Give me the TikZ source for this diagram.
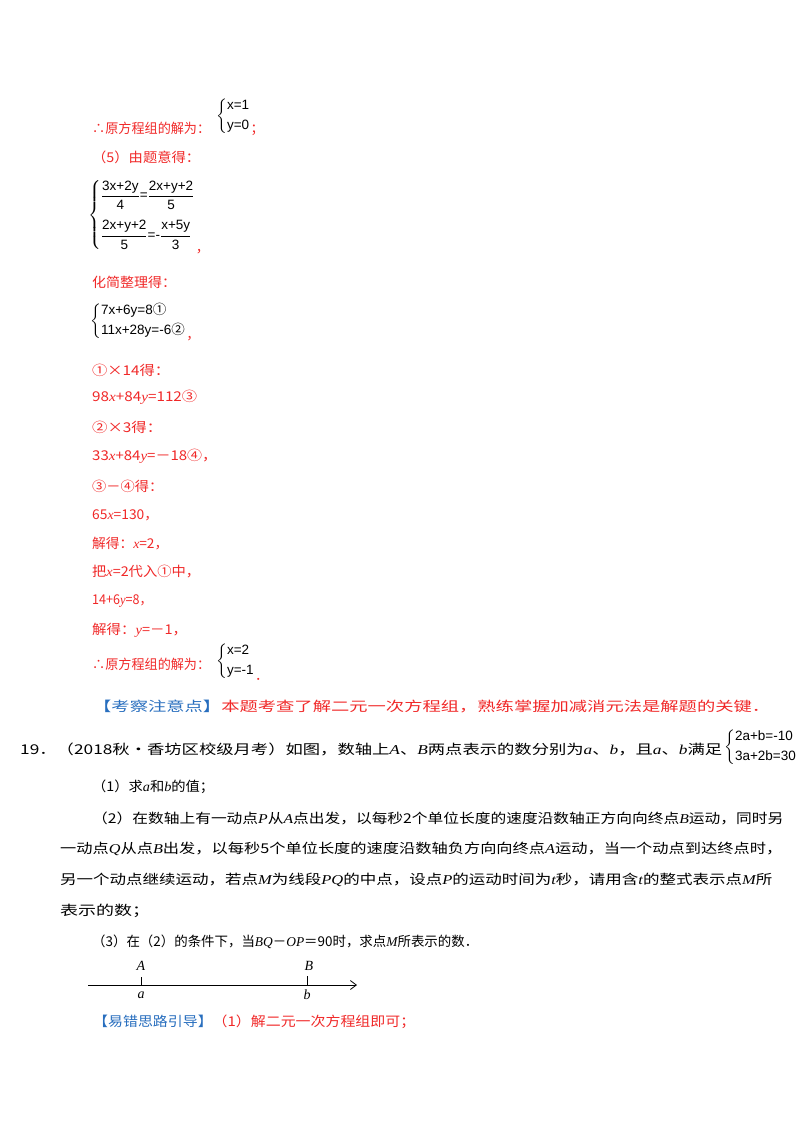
\documentclass[tikz,border=0pt]{standalone}
\usepackage{fontspec}
\usepackage{amsmath,graphicx}
\setmainfont{Noto Sans CJK SC}
\newfontfamily\eqf{Liberation Sans}
\newfontfamily\vf{Liberation Serif}
\usetikzlibrary{arrows.meta}
\definecolor{rd}{RGB}{240,40,40}
\definecolor{bl}{RGB}{40,110,190}
\newcommand{\V}[1]{{\vf\itshape #1}}
\newcommand{\E}[1]{\hbox{\eqf #1}}
\newcommand{\fit}[2]{\resizebox{#1}{\height}{#2}}
\tikzset{t/.style={anchor=west,inner sep=0pt,font=\fontsize{13.5}{15}\selectfont},
 r/.style={t,text=rd}, k/.style={t,text=black}}
\begin{document}
\begin{tikzpicture}[x=1pt,y=-1pt]
\useasboundingbox (0,0) rectangle (800,1132);
\node[r] (l1) at (92,128) {\fit{118pt}{∴原方程组的解为：}};
\node[k] (s1) at (216,116) {$\left\{\begin{array}{@{}l@{}}\E{x=1}\\[5pt]\E{y=0}\end{array}\right.$};
\node[r] (s1c) at (s1.south east) [anchor=south west,yshift=-2pt] {；};
\node[r] (l2) at (92,157) {\fit{108pt}{（5）由题意得：}};
\node[k] (s2) at (88,215) {$\left\{\begin{array}{@{}l@{}}\dfrac{\E{3x+2y}}{\E{4}}\E{=}\dfrac{\E{2x+y+2}}{\E{5}}\\[16pt]\dfrac{\E{2x+y+2}}{\E{5}}\E{=-}\dfrac{\E{x+5y}}{\E{3}}\end{array}\right.$};
\node[r] (s2c) at (s2.south east) [anchor=south west,yshift=-4pt] {，};
\node[r] (l3) at (92,282) {\fit{84pt}{化简整理得：}};
\node[k] (s3) at (90,321) {$\left\{\begin{array}{@{}l@{}}\E{7x+6y=8}\text{①}\\[5pt]\E{11x+28y=-6}\text{②}\end{array}\right.$};
\node[r] (s3c) at (s3.south east) [anchor=south west,yshift=-2pt] {，};
\node[r] (l4) at (92,370) {\fit{78pt}{①×14得：}};
\node[r] (l5) at (92,397) {\fit{105pt}{98\V{x}+84\V{y}=112③}};
\node[r] (l6) at (92,427) {\fit{70pt}{②×3得：}};
\node[r] (l7) at (92,456) {\fit{125pt}{33\V{x}+84\V{y}=－18④，}};
\node[r] (l8) at (92,486) {\fit{71pt}{③－④得：}};
\node[r] (l9) at (92,515) {\fit{66pt}{65\V{x}=130，}};
\node[r] (l10) at (92,544) {\fit{76pt}{解得：\V{x}=2，}};
\node[r] (l11) at (92,572) {\fit{108pt}{把\V{x}=2代入①中，}};
\node[r] (l12) at (92,601) {\fit{60pt}{14+6\V{y}=8，}};
\node[r] (l13) at (92,630) {\fit{95pt}{解得：\V{y}=－1，}};
\node[r] (l14) at (92,664) {\fit{118pt}{∴原方程组的解为：}};
\node[k] (s4) at (216,661) {$\left\{\begin{array}{@{}l@{}}\E{x=2}\\[5pt]\E{y=-1}\end{array}\right.$};
\node[r] (s4c) at (s4.south east) [anchor=south west,yshift=-2pt] {．};
\node[t] (l15) at (93,706) {\fit{677pt}{\textcolor{bl}{【考察注意点】}\textcolor{rd}{本题考查了解二元一次方程组，熟练掌握加减消元法是解题的关键．}}};
\node[k] (l16) at (20,749) {\fit{702pt}{19．（2018秋•香坊区校级月考）如图，数轴上\V{A}、\V{B}两点表示的数分别为\V{a}、\V{b}，且\V{a}、\V{b}满足}};
\node[k] (s5) at (724,747) {$\left\{\begin{array}{@{}l@{}}\E{2a+b=-10}\\[5pt]\E{3a+2b=30}\end{array}\right.$};
\node[k] (l17) at (92,787) {\fit{122pt}{（1）求\V{a}和\V{b}的值；}};
\node[k] (l18) at (92,818) {\fit{691pt}{（2）在数轴上有一动点\V{P}从\V{A}点出发，以每秒2个单位长度的速度沿数轴正方向向终点\V{B}运动，同时另}};
\node[k] (l19) at (60,849) {\fit{722pt}{一动点\V{Q}从点\V{B}出发，以每秒5个单位长度的速度沿数轴负方向向终点\V{A}运动，当一个动点到达终点时，}};
\node[k] (l20) at (60,880) {\fit{712pt}{另一个动点继续运动，若点\V{M}为线段\V{PQ}的中点，设点\V{P}的运动时间为\V{t}秒，请用含\V{t}的整式表示点\V{M}所}};
\node[k] (l21) at (60,911) {\fit{90pt}{表示的数；}};
\node[k] (l22) at (92,942) {\fit{386pt}{（3）在（2）的条件下，当\V{BQ}－\V{OP}＝90时，求点\V{M}所表示的数．}};
\coordinate (n0) at (88,985);
\coordinate (n1) at (357,985);
\draw[line width=0.8pt,-{Straight Barb[length=6pt,width=9pt]}] (n0) -- (n1);
\draw[line width=0.8pt] (141,977) coordinate (ta) -- (141,986);
\draw[line width=0.8pt] (307,976) coordinate (tb) -- (307,986);
\node[font=\fontsize{14}{15}\selectfont,inner sep=0] (A) at (141,966) {\V{A}};
\node[font=\fontsize{14}{15}\selectfont,inner sep=0] (a) at (141,995) {\V{a}};
\node[font=\fontsize{14}{15}\selectfont,inner sep=0] (B) at (309,966) {\V{B}};
\node[font=\fontsize{14}{15}\selectfont,inner sep=0] (b) at (307,995) {\V{b}};
\node[t] (l23) at (93,1022) {\fit{322pt}{\textcolor{bl}{【易错思路引导】}\textcolor{rd}{（1）解二元一次方程组即可；}}};
\end{tikzpicture}
\end{document}
